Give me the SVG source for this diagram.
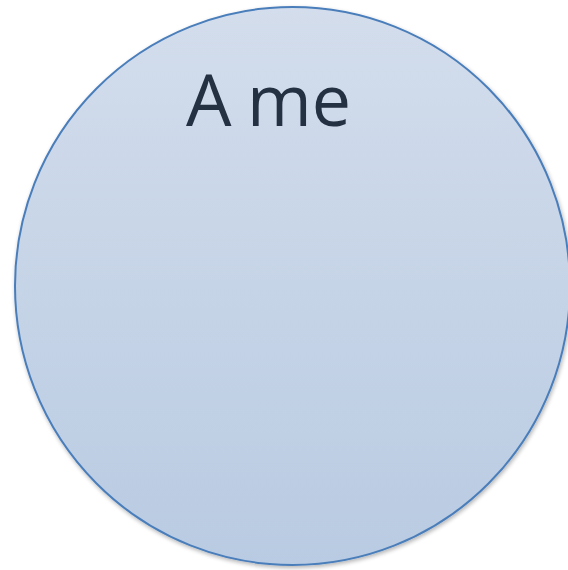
<svg xmlns="http://www.w3.org/2000/svg" width="568" height="570" viewBox="0 0 568 570">
<defs>
<linearGradient id="g" x1="0" y1="0" x2="0" y2="1">
<stop offset="0" stop-color="#d3ddec"/>
<stop offset="1" stop-color="#b9cbe2"/>
</linearGradient>
<filter id="sh" x="-5%" y="-5%" width="110%" height="110%">
<feGaussianBlur in="SourceAlpha" stdDeviation="2"/>
<feOffset dx="1" dy="2" result="b"/>
<feComponentTransfer><feFuncA type="linear" slope="0.3"/></feComponentTransfer>
<feMerge><feMergeNode/><feMergeNode in="SourceGraphic"/></feMerge>
</filter>
<style>
.t{font-family:"Open Sans","Liberation Sans",sans-serif;font-size:72px;fill:#243142}
</style>
</defs>
<rect width="568" height="570" fill="#ffffff"/>
<g id="ame">
<ellipse cx="292.5" cy="286" rx="277.5" ry="279" fill="url(#g)" stroke="#4a7ebb" stroke-width="2" filter="url(#sh)"/>
<text class="t" x="186" y="126">A</text>
<text class="t" x="247" y="126" textLength="104" lengthAdjust="spacingAndGlyphs">me</text>
</g>
</svg>
